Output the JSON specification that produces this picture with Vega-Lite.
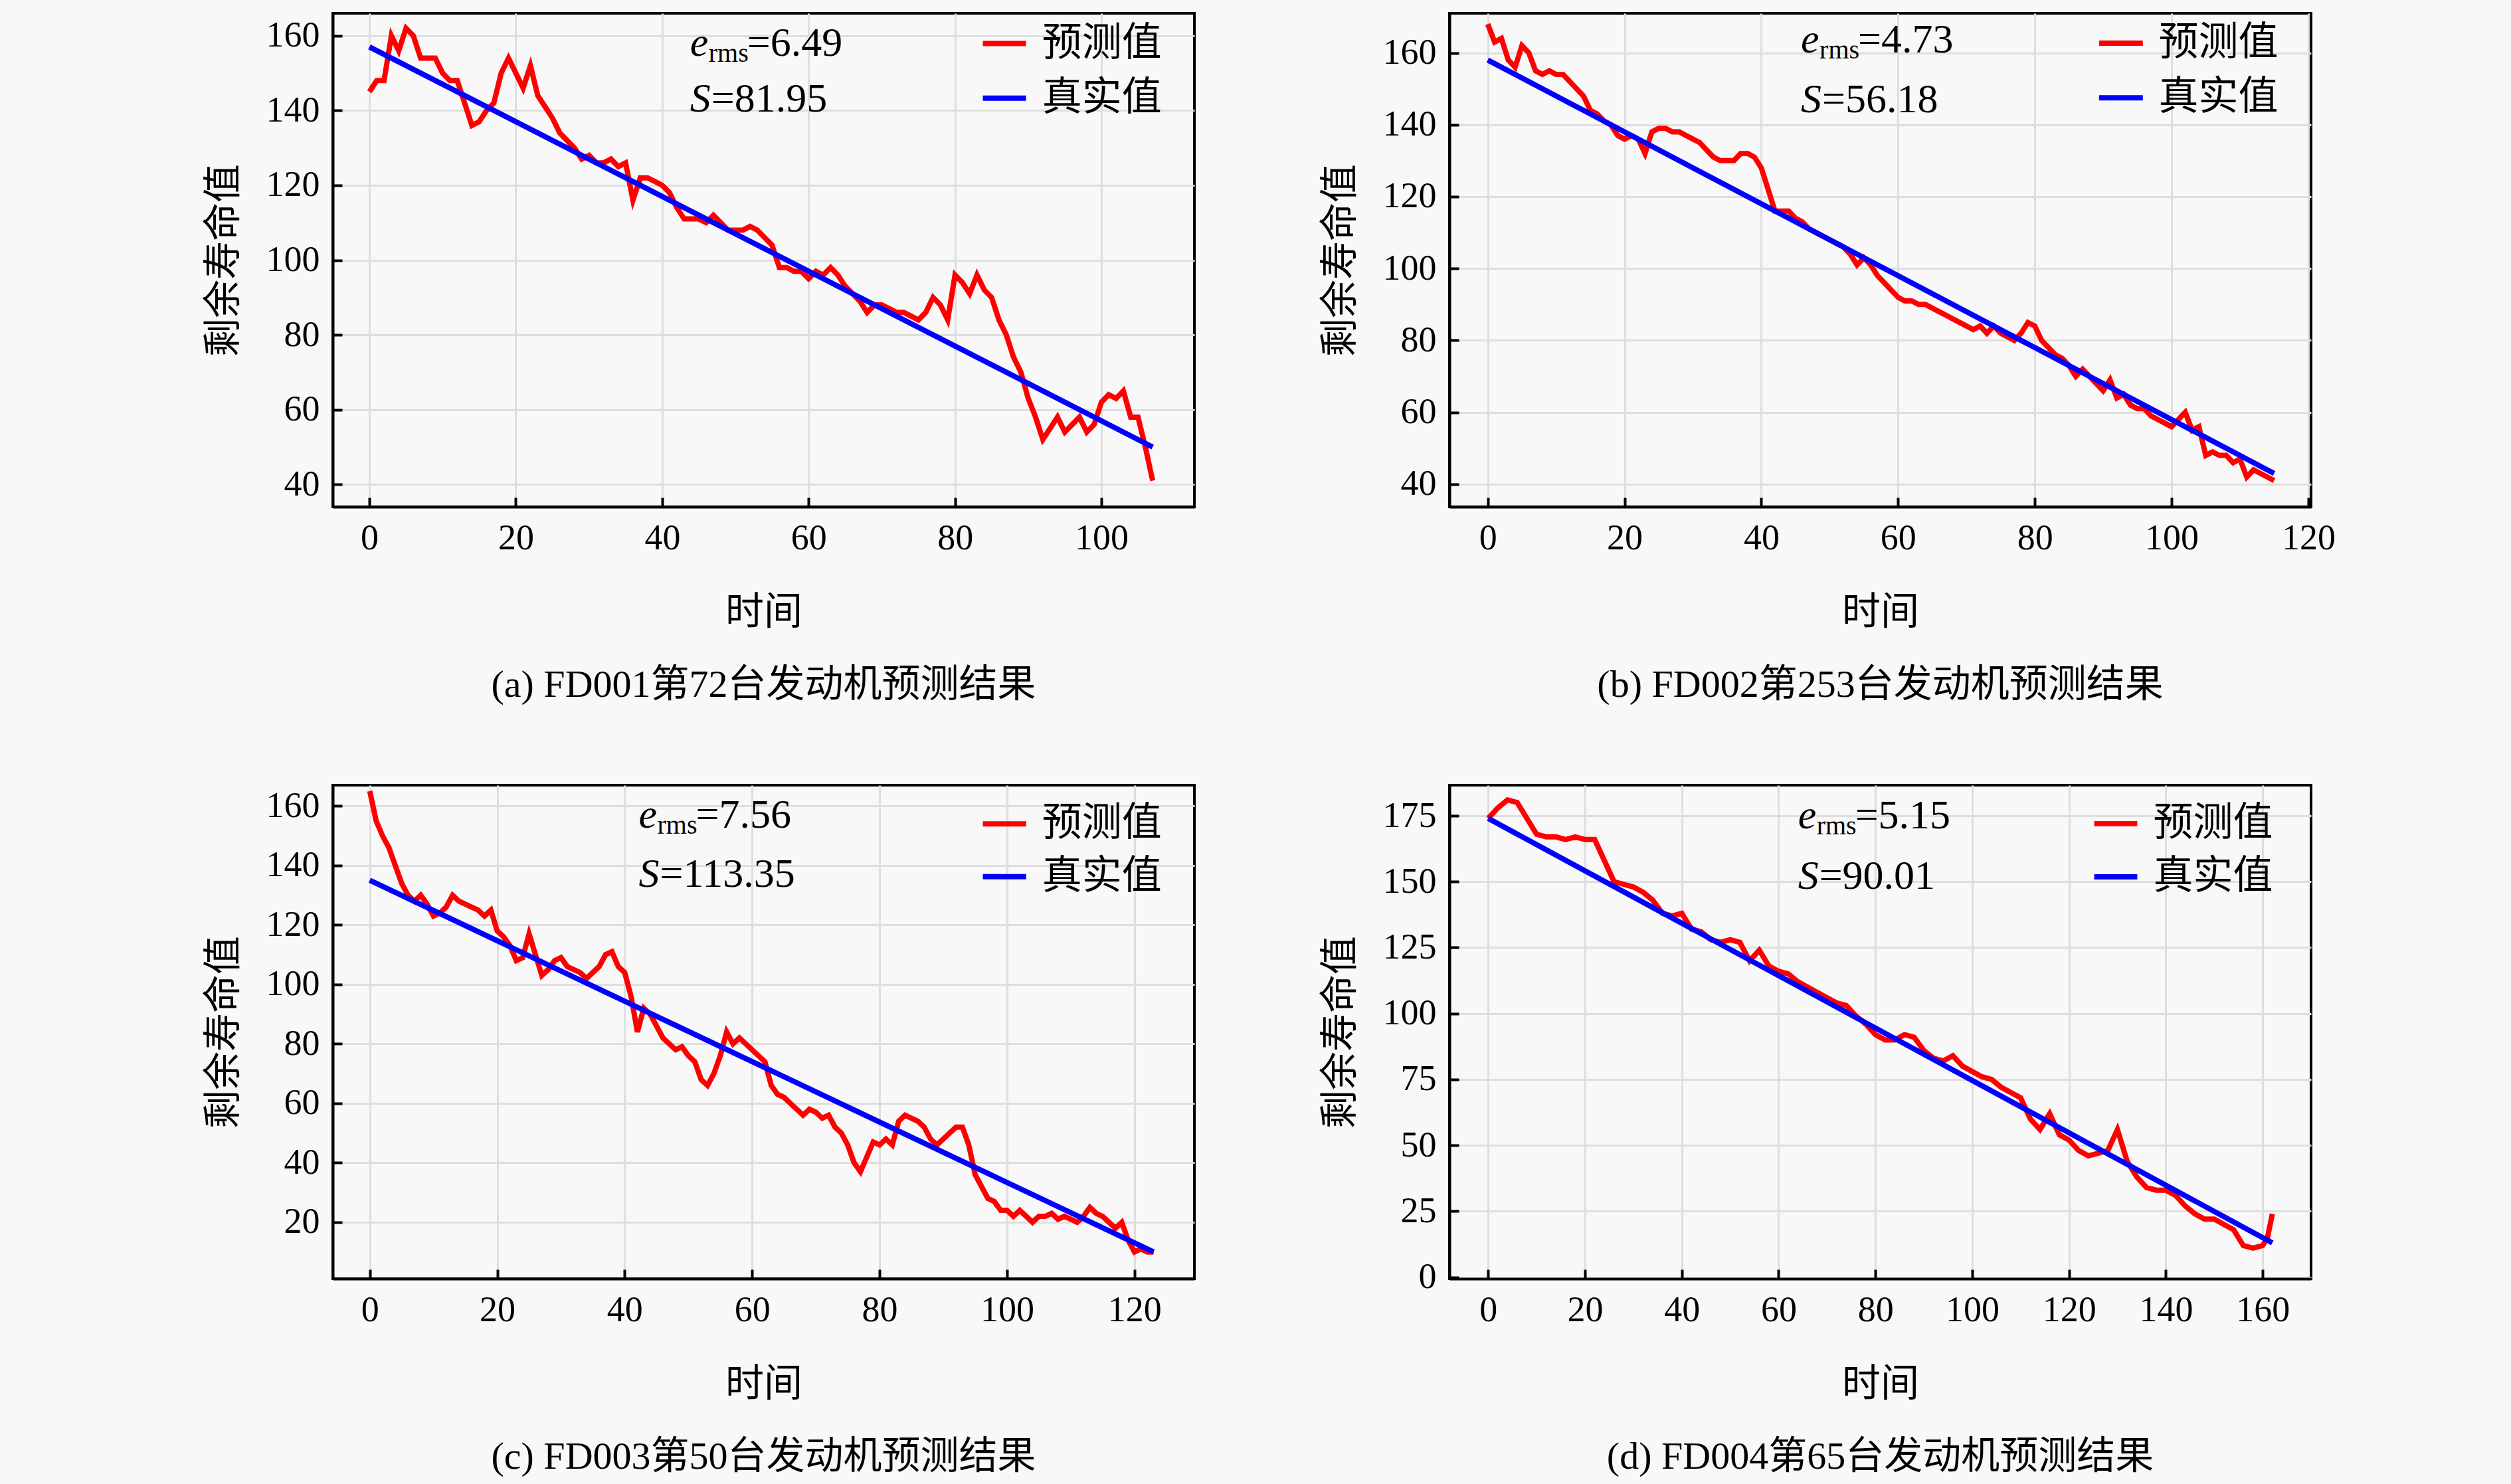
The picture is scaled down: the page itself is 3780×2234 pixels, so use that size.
{
  "$schema": "https://vega.github.io/schema/vega-lite/v6.json",
  "background": "#f8f8f8",
  "padding": {"left": 306, "top": 18, "right": 300, "bottom": 30},
  "config": {
    "font": "Liberation Serif, Noto Sans CJK SC",
    "view": {"stroke": "black", "strokeWidth": 4, "fill": "#f8f8f8"},
    "axis": {
      "domainColor": "black", "domainWidth": 4, "tickColor": "black", "tickWidth": 4, "tickSize": -14,
      "labelPadding": 34, "labelFontSize": 54, "labelColor": "black", "titleFontSize": 58, "titleColor": "black",
      "titleFontWeight": "normal", "gridColor": "#dedede", "gridWidth": 3, "labelFont": "Liberation Serif",
      "titleFont": "Noto Sans CJK SC"
    },
    "axisX": {"titlePadding": 56},
    "axisY": {"titlePadding": 34},
    "title": {"orient": "bottom", "fontSize": 58, "fontWeight": "normal", "color": "black", "offset": 52, "font": "Liberation Serif, Noto Sans CJK SC"},
    "concat": {"spacing": 187}
  },
  "resolve": {"scale": {"x": "independent", "y": "independent"}},
  "spacing": 109,
  "datasets": {
    "a": [
      {"t":0,"v":145},{"t":1,"v":148},{"t":2,"v":148},{"t":3,"v":160},{"t":4,"v":156},{"t":5,"v":162},{"t":6,"v":160},{"t":7,"v":154},{"t":8,"v":154},{"t":9,"v":154},
      {"t":10,"v":150},{"t":11,"v":148},{"t":12,"v":148},{"t":13,"v":142},{"t":14,"v":136},{"t":15,"v":137},{"t":16,"v":140},{"t":17,"v":142},{"t":18,"v":150},{"t":19,"v":154},
      {"t":20,"v":150},{"t":21,"v":146},{"t":22,"v":152},{"t":23,"v":144},{"t":24,"v":141},{"t":25,"v":138},{"t":26,"v":134},{"t":27,"v":132},{"t":28,"v":130},{"t":29,"v":127},
      {"t":30,"v":128},{"t":31,"v":126},{"t":32,"v":126},{"t":33,"v":127},{"t":34,"v":125},{"t":35,"v":126},{"t":36,"v":116},{"t":37,"v":122},{"t":38,"v":122},{"t":39,"v":121},
      {"t":40,"v":120},{"t":41,"v":118},{"t":42,"v":114},{"t":43,"v":111},{"t":44,"v":111},{"t":45,"v":111},{"t":46,"v":110},{"t":47,"v":112},{"t":48,"v":110},{"t":49,"v":108},
      {"t":50,"v":108},{"t":51,"v":108},{"t":52,"v":109},{"t":53,"v":108},{"t":54,"v":106},{"t":55,"v":104},{"t":56,"v":98},{"t":57,"v":98},{"t":58,"v":97},{"t":59,"v":97},
      {"t":60,"v":95},{"t":61,"v":97},{"t":62,"v":96},{"t":63,"v":98},{"t":64,"v":96},{"t":65,"v":93},{"t":66,"v":91},{"t":67,"v":89},{"t":68,"v":86},{"t":69,"v":88},
      {"t":70,"v":88},{"t":71,"v":87},{"t":72,"v":86},{"t":73,"v":86},{"t":74,"v":85},{"t":75,"v":84},{"t":76,"v":86},{"t":77,"v":90},{"t":78,"v":88},{"t":79,"v":84},
      {"t":80,"v":96},{"t":81,"v":94},{"t":82,"v":91},{"t":83,"v":96},{"t":84,"v":92},{"t":85,"v":90},{"t":86,"v":84},{"t":87,"v":80},{"t":88,"v":74},{"t":89,"v":70},
      {"t":90,"v":63},{"t":91,"v":58},{"t":92,"v":52},{"t":93,"v":55},{"t":94,"v":58},{"t":95,"v":54},{"t":96,"v":56},{"t":97,"v":58},{"t":98,"v":54},{"t":99,"v":56},
      {"t":100,"v":62},{"t":101,"v":64},{"t":102,"v":63},{"t":103,"v":65},{"t":104,"v":58},{"t":105,"v":58},{"t":106,"v":50},{"t":107,"v":41}
    ],
    "b": [
      {"t":0,"v":168},{"t":1,"v":163},{"t":2,"v":164},{"t":3,"v":158},{"t":4,"v":156},{"t":5,"v":162},{"t":6,"v":160},{"t":7,"v":155},{"t":8,"v":154},{"t":9,"v":155},
      {"t":10,"v":154},{"t":11,"v":154},{"t":12,"v":152},{"t":13,"v":150},{"t":14,"v":148},{"t":15,"v":144},{"t":16,"v":143},{"t":17,"v":141},{"t":18,"v":140},{"t":19,"v":137},
      {"t":20,"v":136},{"t":21,"v":137},{"t":22,"v":136},{"t":23,"v":132},{"t":24,"v":138},{"t":25,"v":139},{"t":26,"v":139},{"t":27,"v":138},{"t":28,"v":138},{"t":29,"v":137},
      {"t":30,"v":136},{"t":31,"v":135},{"t":32,"v":133},{"t":33,"v":131},{"t":34,"v":130},{"t":35,"v":130},{"t":36,"v":130},{"t":37,"v":132},{"t":38,"v":132},{"t":39,"v":131},
      {"t":40,"v":128},{"t":41,"v":122},{"t":42,"v":116},{"t":43,"v":116},{"t":44,"v":116},{"t":45,"v":114},{"t":46,"v":113},{"t":47,"v":111},{"t":48,"v":110},{"t":49,"v":109},
      {"t":50,"v":108},{"t":51,"v":107},{"t":52,"v":106},{"t":53,"v":104},{"t":54,"v":101},{"t":55,"v":103},{"t":56,"v":101},{"t":57,"v":98},{"t":58,"v":96},{"t":59,"v":94},
      {"t":60,"v":92},{"t":61,"v":91},{"t":62,"v":91},{"t":63,"v":90},{"t":64,"v":90},{"t":65,"v":89},{"t":66,"v":88},{"t":67,"v":87},{"t":68,"v":86},{"t":69,"v":85},
      {"t":70,"v":84},{"t":71,"v":83},{"t":72,"v":84},{"t":73,"v":82},{"t":74,"v":84},{"t":75,"v":82},{"t":76,"v":81},{"t":77,"v":80},{"t":78,"v":82},{"t":79,"v":85},
      {"t":80,"v":84},{"t":81,"v":80},{"t":82,"v":78},{"t":83,"v":76},{"t":84,"v":75},{"t":85,"v":73},{"t":86,"v":70},{"t":87,"v":72},{"t":88,"v":70},{"t":89,"v":68},
      {"t":90,"v":66},{"t":91,"v":69},{"t":92,"v":64},{"t":93,"v":65},{"t":94,"v":62},{"t":95,"v":61},{"t":96,"v":61},{"t":97,"v":59},{"t":98,"v":58},{"t":99,"v":57},
      {"t":100,"v":56},{"t":101,"v":58},{"t":102,"v":60},{"t":103,"v":55},{"t":104,"v":56},{"t":105,"v":48},{"t":106,"v":49},{"t":107,"v":48},{"t":108,"v":48},{"t":109,"v":46},
      {"t":110,"v":47},{"t":111,"v":42},{"t":112,"v":44},{"t":113,"v":43},{"t":114,"v":42},{"t":115,"v":41}
    ],
    "c": [
      {"t":0,"v":165},{"t":1,"v":155},{"t":2,"v":150},{"t":3,"v":146},{"t":4,"v":140},{"t":5,"v":134},{"t":6,"v":130},{"t":7,"v":128},{"t":8,"v":130},{"t":9,"v":127},
      {"t":10,"v":123},{"t":11,"v":124},{"t":12,"v":126},{"t":13,"v":130},{"t":14,"v":128},{"t":15,"v":127},{"t":16,"v":126},{"t":17,"v":125},{"t":18,"v":123},{"t":19,"v":125},
      {"t":20,"v":118},{"t":21,"v":116},{"t":22,"v":113},{"t":23,"v":108},{"t":24,"v":109},{"t":25,"v":117},{"t":26,"v":110},{"t":27,"v":103},{"t":28,"v":105},{"t":29,"v":108},
      {"t":30,"v":109},{"t":31,"v":106},{"t":32,"v":105},{"t":33,"v":104},{"t":34,"v":102},{"t":35,"v":104},{"t":36,"v":106},{"t":37,"v":110},{"t":38,"v":111},{"t":39,"v":106},
      {"t":40,"v":104},{"t":41,"v":96},{"t":42,"v":84},{"t":43,"v":92},{"t":44,"v":90},{"t":45,"v":86},{"t":46,"v":82},{"t":47,"v":80},{"t":48,"v":78},{"t":49,"v":79},
      {"t":50,"v":76},{"t":51,"v":74},{"t":52,"v":68},{"t":53,"v":66},{"t":54,"v":70},{"t":55,"v":76},{"t":56,"v":84},{"t":57,"v":80},{"t":58,"v":82},{"t":59,"v":80},
      {"t":60,"v":78},{"t":61,"v":76},{"t":62,"v":74},{"t":63,"v":66},{"t":64,"v":63},{"t":65,"v":62},{"t":66,"v":60},{"t":67,"v":58},{"t":68,"v":56},{"t":69,"v":58},
      {"t":70,"v":57},{"t":71,"v":55},{"t":72,"v":56},{"t":73,"v":52},{"t":74,"v":50},{"t":75,"v":46},{"t":76,"v":40},{"t":77,"v":37},{"t":78,"v":42},{"t":79,"v":47},
      {"t":80,"v":46},{"t":81,"v":48},{"t":82,"v":46},{"t":83,"v":54},{"t":84,"v":56},{"t":85,"v":55},{"t":86,"v":54},{"t":87,"v":52},{"t":88,"v":48},{"t":89,"v":46},
      {"t":90,"v":48},{"t":91,"v":50},{"t":92,"v":52},{"t":93,"v":52},{"t":94,"v":46},{"t":95,"v":36},{"t":96,"v":32},{"t":97,"v":28},{"t":98,"v":27},{"t":99,"v":24},
      {"t":100,"v":24},{"t":101,"v":22},{"t":102,"v":24},{"t":103,"v":22},{"t":104,"v":20},{"t":105,"v":22},{"t":106,"v":22},{"t":107,"v":23},{"t":108,"v":21},{"t":109,"v":22},
      {"t":110,"v":21},{"t":111,"v":20},{"t":112,"v":22},{"t":113,"v":25},{"t":114,"v":23},{"t":115,"v":22},{"t":116,"v":20},{"t":117,"v":18},{"t":118,"v":20},{"t":119,"v":14},
      {"t":120,"v":10},{"t":121,"v":11},{"t":122,"v":10},{"t":123,"v":10}
    ],
    "d": [
      {"t":0,"v":174},{"t":2,"v":178},{"t":4,"v":181},{"t":6,"v":180},{"t":8,"v":174},{"t":10,"v":168},{"t":12,"v":167},{"t":14,"v":167},{"t":16,"v":166},{"t":18,"v":167},
      {"t":20,"v":166},{"t":22,"v":166},{"t":24,"v":158},{"t":26,"v":150},{"t":28,"v":149},{"t":30,"v":148},{"t":32,"v":146},{"t":34,"v":143},{"t":36,"v":138},{"t":38,"v":137},
      {"t":40,"v":138},{"t":42,"v":132},{"t":44,"v":131},{"t":46,"v":128},{"t":48,"v":127},{"t":50,"v":128},{"t":52,"v":127},{"t":54,"v":120},{"t":56,"v":124},{"t":58,"v":118},
      {"t":60,"v":116},{"t":62,"v":115},{"t":64,"v":112},{"t":66,"v":110},{"t":68,"v":108},{"t":70,"v":106},{"t":72,"v":104},{"t":74,"v":103},{"t":76,"v":99},{"t":78,"v":96},
      {"t":80,"v":92},{"t":82,"v":90},{"t":84,"v":90},{"t":86,"v":92},{"t":88,"v":91},{"t":90,"v":86},{"t":92,"v":83},{"t":94,"v":82},{"t":96,"v":84},{"t":98,"v":80},
      {"t":100,"v":78},{"t":102,"v":76},{"t":104,"v":75},{"t":106,"v":72},{"t":108,"v":70},{"t":110,"v":68},{"t":112,"v":60},{"t":114,"v":56},{"t":116,"v":62},{"t":118,"v":54},
      {"t":120,"v":52},{"t":122,"v":48},{"t":124,"v":46},{"t":126,"v":47},{"t":128,"v":48},{"t":130,"v":56},{"t":132,"v":44},{"t":134,"v":38},{"t":136,"v":34},{"t":138,"v":33},
      {"t":140,"v":33},{"t":142,"v":31},{"t":144,"v":27},{"t":146,"v":24},{"t":148,"v":22},{"t":150,"v":22},{"t":152,"v":20},{"t":154,"v":18},{"t":156,"v":12},{"t":158,"v":11},
      {"t":160,"v":12},{"t":161,"v":15},{"t":162,"v":24}
    ]
  },
  "vconcat": [
    {"hconcat": [
      {
        "width": 1297, "height": 743,
        "title": "(a) FD001第72台发动机预测结果",
        "encoding": {
          "x": {"field": "t", "type": "quantitative", "title": "时间", "scale": {"domain": [-5, 112.7], "nice": false, "zero": false}, "axis": {"values": [0,20,40,60,80,100]}},
          "y": {"field": "v", "type": "quantitative", "title": "剩余寿命值", "scale": {"domain": [34, 166], "nice": false, "zero": false}, "axis": {"values": [40,60,80,100,120,140,160]}}
        },
        "layer": [
          {"data": {"name": "a"}, "transform": [{"calculate": "'预测值'", "as": "s"}], "mark": {"type": "line", "strokeWidth": 8},
           "encoding": {"color": {"field": "s", "type": "nominal", "legend": null, "scale": {"domain": ["预测值", "真实值"], "range": ["#ff0000", "#0000ff"]}}}},
          {"data": {"values": [{"t": 0, "v": 157, "s": "真实值"}, {"t": 107, "v": 50, "s": "真实值"}]}, "mark": {"type": "line", "strokeWidth": 8},
           "encoding": {"color": {"field": "s", "type": "nominal", "legend": null}}},
          {"data": {"values": [{"t": 83.8, "t2": 89.7, "v": 157.9, "s": "预测值"}, {"t": 83.8, "t2": 89.7, "v": 143.3, "s": "真实值"}]}, "mark": {"type": "rule", "strokeWidth": 8},
           "encoding": {"x2": {"field": "t2"}, "color": {"field": "s", "type": "nominal", "legend": null}}},
          {"data": {"values": [{"t": 91.9, "v": 157.9, "s": "预测值"}, {"t": 91.9, "v": 143.3, "s": "真实值"}]}, "mark": {"type": "text", "align": "left", "baseline": "middle", "fontSize": 60, "font": "Noto Sans CJK SC", "color": "black"},
           "encoding": {"text": {"field": "s"}}},
          {"data": {"values": [{"t": 43.8, "v": 158, "e": "e", "r": "rms", "q": "=6.49"}]}, "layer": [
            {"mark": {"type": "text", "align": "left", "fontSize": 62, "fontStyle": "italic", "font": "Liberation Serif"}, "encoding": {"text": {"field": "e"}}},
            {"mark": {"type": "text", "align": "left", "fontSize": 40, "dx": 28, "dy": 16, "font": "Liberation Serif"}, "encoding": {"text": {"field": "r"}}},
            {"mark": {"type": "text", "align": "left", "fontSize": 62, "dx": 86, "font": "Liberation Serif"}, "encoding": {"text": {"field": "q"}}}
          ]},
          {"data": {"values": [{"t": 43.8, "v": 143, "e": "S", "q": "=81.95"}]}, "layer": [
            {"mark": {"type": "text", "align": "left", "fontSize": 62, "fontStyle": "italic", "font": "Liberation Serif"}, "encoding": {"text": {"field": "e"}}},
            {"mark": {"type": "text", "align": "left", "fontSize": 62, "dx": 32, "font": "Liberation Serif"}, "encoding": {"text": {"field": "q"}}}
          ]}
        ]
      },
      {
        "width": 1297, "height": 743,
        "title": "(b) FD002第253台发动机预测结果",
        "encoding": {
          "x": {"field": "t", "type": "quantitative", "title": "时间", "scale": {"domain": [-5.6, 120.4], "nice": false, "zero": false}, "axis": {"values": [0,20,40,60,80,100,120]}},
          "y": {"field": "v", "type": "quantitative", "title": "剩余寿命值", "scale": {"domain": [33.7, 171], "nice": false, "zero": false}, "axis": {"values": [40,60,80,100,120,140,160]}}
        },
        "layer": [
          {"data": {"name": "b"}, "transform": [{"calculate": "'预测值'", "as": "s"}], "mark": {"type": "line", "strokeWidth": 8},
           "encoding": {"color": {"field": "s", "type": "nominal", "legend": null, "scale": {"domain": ["预测值", "真实值"], "range": ["#ff0000", "#0000ff"]}}}},
          {"data": {"values": [{"t": 0, "v": 158, "s": "真实值"}, {"t": 115, "v": 43, "s": "真实值"}]}, "mark": {"type": "line", "strokeWidth": 8},
           "encoding": {"color": {"field": "s", "type": "nominal", "legend": null}}},
          {"data": {"values": [{"t": 89.4, "t2": 95.8, "v": 162.7, "s": "预测值"}, {"t": 89.4, "t2": 95.8, "v": 147.5, "s": "真实值"}]}, "mark": {"type": "rule", "strokeWidth": 8},
           "encoding": {"x2": {"field": "t2"}, "color": {"field": "s", "type": "nominal", "legend": null}}},
          {"data": {"values": [{"t": 98.1, "v": 162.7, "s": "预测值"}, {"t": 98.1, "v": 147.5, "s": "真实值"}]}, "mark": {"type": "text", "align": "left", "baseline": "middle", "fontSize": 60, "font": "Noto Sans CJK SC", "color": "black"},
           "encoding": {"text": {"field": "s"}}},
          {"data": {"values": [{"t": 45.8, "v": 163.6, "e": "e", "r": "rms", "q": "=4.73"}]}, "layer": [
            {"mark": {"type": "text", "align": "left", "fontSize": 62, "fontStyle": "italic", "font": "Liberation Serif"}, "encoding": {"text": {"field": "e"}}},
            {"mark": {"type": "text", "align": "left", "fontSize": 40, "dx": 28, "dy": 16, "font": "Liberation Serif"}, "encoding": {"text": {"field": "r"}}},
            {"mark": {"type": "text", "align": "left", "fontSize": 62, "dx": 86, "font": "Liberation Serif"}, "encoding": {"text": {"field": "q"}}}
          ]},
          {"data": {"values": [{"t": 45.8, "v": 147, "e": "S", "q": "=56.18"}]}, "layer": [
            {"mark": {"type": "text", "align": "left", "fontSize": 62, "fontStyle": "italic", "font": "Liberation Serif"}, "encoding": {"text": {"field": "e"}}},
            {"mark": {"type": "text", "align": "left", "fontSize": 62, "dx": 32, "font": "Liberation Serif"}, "encoding": {"text": {"field": "q"}}}
          ]}
        ]
      }
    ]},
    {"hconcat": [
      {
        "width": 1297, "height": 743,
        "title": "(c) FD003第50台发动机预测结果",
        "encoding": {
          "x": {"field": "t", "type": "quantitative", "title": "时间", "scale": {"domain": [-5.8, 129.4], "nice": false, "zero": false}, "axis": {"values": [0,20,40,60,80,100,120]}},
          "y": {"field": "v", "type": "quantitative", "title": "剩余寿命值", "scale": {"domain": [1, 167], "nice": false, "zero": false}, "axis": {"values": [20,40,60,80,100,120,140,160]}}
        },
        "layer": [
          {"data": {"name": "c"}, "transform": [{"calculate": "'预测值'", "as": "s"}], "mark": {"type": "line", "strokeWidth": 8},
           "encoding": {"color": {"field": "s", "type": "nominal", "legend": null, "scale": {"domain": ["预测值", "真实值"], "range": ["#ff0000", "#0000ff"]}}}},
          {"data": {"values": [{"t": 0, "v": 135, "s": "真实值"}, {"t": 123, "v": 10, "s": "真实值"}]}, "mark": {"type": "line", "strokeWidth": 8},
           "encoding": {"color": {"field": "s", "type": "nominal", "legend": null}}},
          {"data": {"values": [{"t": 96.2, "t2": 103, "v": 154, "s": "预测值"}, {"t": 96.2, "t2": 103, "v": 136.2, "s": "真实值"}]}, "mark": {"type": "rule", "strokeWidth": 8},
           "encoding": {"x2": {"field": "t2"}, "color": {"field": "s", "type": "nominal", "legend": null}}},
          {"data": {"values": [{"t": 105.5, "v": 154, "s": "预测值"}, {"t": 105.5, "v": 136.2, "s": "真实值"}]}, "mark": {"type": "text", "align": "left", "baseline": "middle", "fontSize": 60, "font": "Noto Sans CJK SC", "color": "black"},
           "encoding": {"text": {"field": "s"}}},
          {"data": {"values": [{"t": 42.2, "v": 157, "e": "e", "r": "rms", "q": "=7.56"}]}, "layer": [
            {"mark": {"type": "text", "align": "left", "fontSize": 62, "fontStyle": "italic", "font": "Liberation Serif"}, "encoding": {"text": {"field": "e"}}},
            {"mark": {"type": "text", "align": "left", "fontSize": 40, "dx": 28, "dy": 16, "font": "Liberation Serif"}, "encoding": {"text": {"field": "r"}}},
            {"mark": {"type": "text", "align": "left", "fontSize": 62, "dx": 86, "font": "Liberation Serif"}, "encoding": {"text": {"field": "q"}}}
          ]},
          {"data": {"values": [{"t": 42.2, "v": 137, "e": "S", "q": "=113.35"}]}, "layer": [
            {"mark": {"type": "text", "align": "left", "fontSize": 62, "fontStyle": "italic", "font": "Liberation Serif"}, "encoding": {"text": {"field": "e"}}},
            {"mark": {"type": "text", "align": "left", "fontSize": 62, "dx": 32, "font": "Liberation Serif"}, "encoding": {"text": {"field": "q"}}}
          ]}
        ]
      },
      {
        "width": 1297, "height": 743,
        "title": "(d) FD004第65台发动机预测结果",
        "encoding": {
          "x": {"field": "t", "type": "quantitative", "title": "时间", "scale": {"domain": [-8, 170], "nice": false, "zero": false}, "axis": {"values": [0,20,40,60,80,100,120,140,160]}},
          "y": {"field": "v", "type": "quantitative", "title": "剩余寿命值", "scale": {"domain": [-0.6, 186.6], "nice": false, "zero": false}, "axis": {"values": [0,25,50,75,100,125,150,175]}}
        },
        "layer": [
          {"data": {"name": "d"}, "transform": [{"calculate": "'预测值'", "as": "s"}], "mark": {"type": "line", "strokeWidth": 8},
           "encoding": {"color": {"field": "s", "type": "nominal", "legend": null, "scale": {"domain": ["预测值", "真实值"], "range": ["#ff0000", "#0000ff"]}}}},
          {"data": {"values": [{"t": 0, "v": 174, "s": "真实值"}, {"t": 162, "v": 13, "s": "真实值"}]}, "mark": {"type": "line", "strokeWidth": 8},
           "encoding": {"color": {"field": "s", "type": "nominal", "legend": null}}},
          {"data": {"values": [{"t": 125.2, "t2": 134.1, "v": 172, "s": "预测值"}, {"t": 125.2, "t2": 134.1, "v": 151.8, "s": "真实值"}]}, "mark": {"type": "rule", "strokeWidth": 8},
           "encoding": {"x2": {"field": "t2"}, "color": {"field": "s", "type": "nominal", "legend": null}}},
          {"data": {"values": [{"t": 137.4, "v": 172, "s": "预测值"}, {"t": 137.4, "v": 151.8, "s": "真实值"}]}, "mark": {"type": "text", "align": "left", "baseline": "middle", "fontSize": 60, "font": "Noto Sans CJK SC", "color": "black"},
           "encoding": {"text": {"field": "s"}}},
          {"data": {"values": [{"t": 64, "v": 175, "e": "e", "r": "rms", "q": "=5.15"}]}, "layer": [
            {"mark": {"type": "text", "align": "left", "fontSize": 62, "fontStyle": "italic", "font": "Liberation Serif"}, "encoding": {"text": {"field": "e"}}},
            {"mark": {"type": "text", "align": "left", "fontSize": 40, "dx": 28, "dy": 16, "font": "Liberation Serif"}, "encoding": {"text": {"field": "r"}}},
            {"mark": {"type": "text", "align": "left", "fontSize": 62, "dx": 86, "font": "Liberation Serif"}, "encoding": {"text": {"field": "q"}}}
          ]},
          {"data": {"values": [{"t": 64, "v": 152, "e": "S", "q": "=90.01"}]}, "layer": [
            {"mark": {"type": "text", "align": "left", "fontSize": 62, "fontStyle": "italic", "font": "Liberation Serif"}, "encoding": {"text": {"field": "e"}}},
            {"mark": {"type": "text", "align": "left", "fontSize": 62, "dx": 32, "font": "Liberation Serif"}, "encoding": {"text": {"field": "q"}}}
          ]}
        ]
      }
    ]}
  ]
}
